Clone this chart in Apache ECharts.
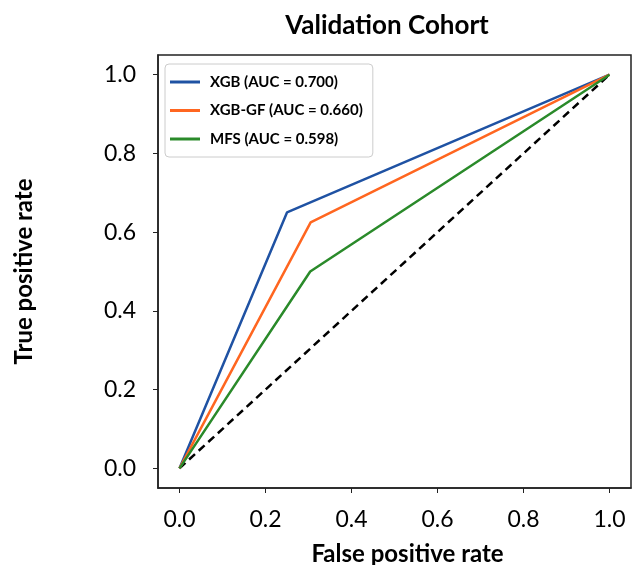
<!DOCTYPE html>
<html><head><meta charset="utf-8">
<script src="https://cdn.jsdelivr.net/npm/echarts@6/dist/echarts.min.js"></script>
<style>html,body{margin:0;padding:0;background:#fff}#c{width:634px;height:565px}</style>
</head><body><div id="c"></div>
<script>
const seriesNames = ['XGB (AUC = 0.700)', 'XGB-GF (AUC = 0.660)', 'MFS (AUC = 0.598)'];
const fprXGB = [0, 0.25, 1];
const tprXGB = [0, 0.65, 1];
const fprXGBGF = [0, 0.305, 1];
const tprXGBGF = [0, 0.625, 1];
const fprMFS = [0, 0.304, 1];
const tprMFS = [0, 0.50, 1];
const fprRef = [0, 1];
const tprRef = [0, 1];
const tickValues = [0, 0.2, 0.4, 0.6, 0.8, 1.0];
const colors = ['#1f52a3', '#ff6620', '#2a8a2a'];

const pairs = (xs, ys) => xs.map((x, i) => [x, ys[i]]);
const FONT = 'Lato, "Open Sans", sans-serif';

const chart = echarts.init(document.getElementById('c'));
function axis(name, nameGap, margin, namePad) {
  return {
    type: 'value', min: -0.05, max: 1.05,
    name: name, nameLocation: 'middle', nameGap: nameGap,
    nameTextStyle: {fontFamily: FONT, fontWeight: 'bold', fontSize: 24, color: '#000', padding: namePad},
    axisLine: {show: true, onZero: false, lineStyle: {color: '#222', width: 1.5}},
    axisTick: {show: true, length: 5, customValues: tickValues, lineStyle: {color: '#222', width: 1}},
    axisLabel: {customValues: tickValues, margin: margin, fontFamily: FONT, fontSize: 23, color: '#000',
      formatter: v => v.toFixed(1)},
    splitLine: {show: false}
  };
}
const xA = axis('False positive rate', 54, 20, [0, 0, 0, 26]);
const yA = axis('True positive rate', 122, 22, 0);
chart.setOption({
  animation: false,
  title: {text: 'Validation Cohort', left: 382, top: 8, textAlign: 'center',
    textStyle: {fontFamily: FONT, fontWeight: 'bold', fontSize: 26, color: '#000'}},
  grid: {left: 158, right: 3, top: 55, bottom: 77, show: true, borderColor: '#222', borderWidth: 1.5,
    backgroundColor: '#fff', outerBoundsMode: 'none', containLabel: false},
  xAxis: xA,
  yAxis: yA,
  legend: {
    data: seriesNames, orient: 'vertical', left: 165, top: 64,
    icon: 'rect', itemWidth: 30, itemHeight: 3, itemGap: 12.5,
    padding: [10, 10, 10, 5],
    borderColor: '#ccc', borderWidth: 1, borderRadius: 4, backgroundColor: '#fff',
    textStyle: {fontFamily: FONT, fontWeight: 'bold', fontSize: 15, lineHeight: 16, color: '#000', padding: [0, 0, 0, 5]}
  },
  series: [
    {name: seriesNames[0], type: 'line', data: pairs(fprXGB, tprXGB), symbol: 'none', lineStyle: {color: colors[0], width: 2.5}, itemStyle: {color: colors[0]}, z: 3},
    {name: seriesNames[1], type: 'line', data: pairs(fprXGBGF, tprXGBGF), symbol: 'none', lineStyle: {color: colors[1], width: 2.5}, itemStyle: {color: colors[1]}, z: 3},
    {name: seriesNames[2], type: 'line', data: pairs(fprMFS, tprMFS), symbol: 'none', lineStyle: {color: colors[2], width: 2.5}, itemStyle: {color: colors[2]}, z: 3},
    {name: 'ref', type: 'line', data: pairs(fprRef, tprRef), symbol: 'none', lineStyle: {color: '#000', width: 2.5, type: [8, 5]}, z: 2}
  ]
});
</script></body></html>
